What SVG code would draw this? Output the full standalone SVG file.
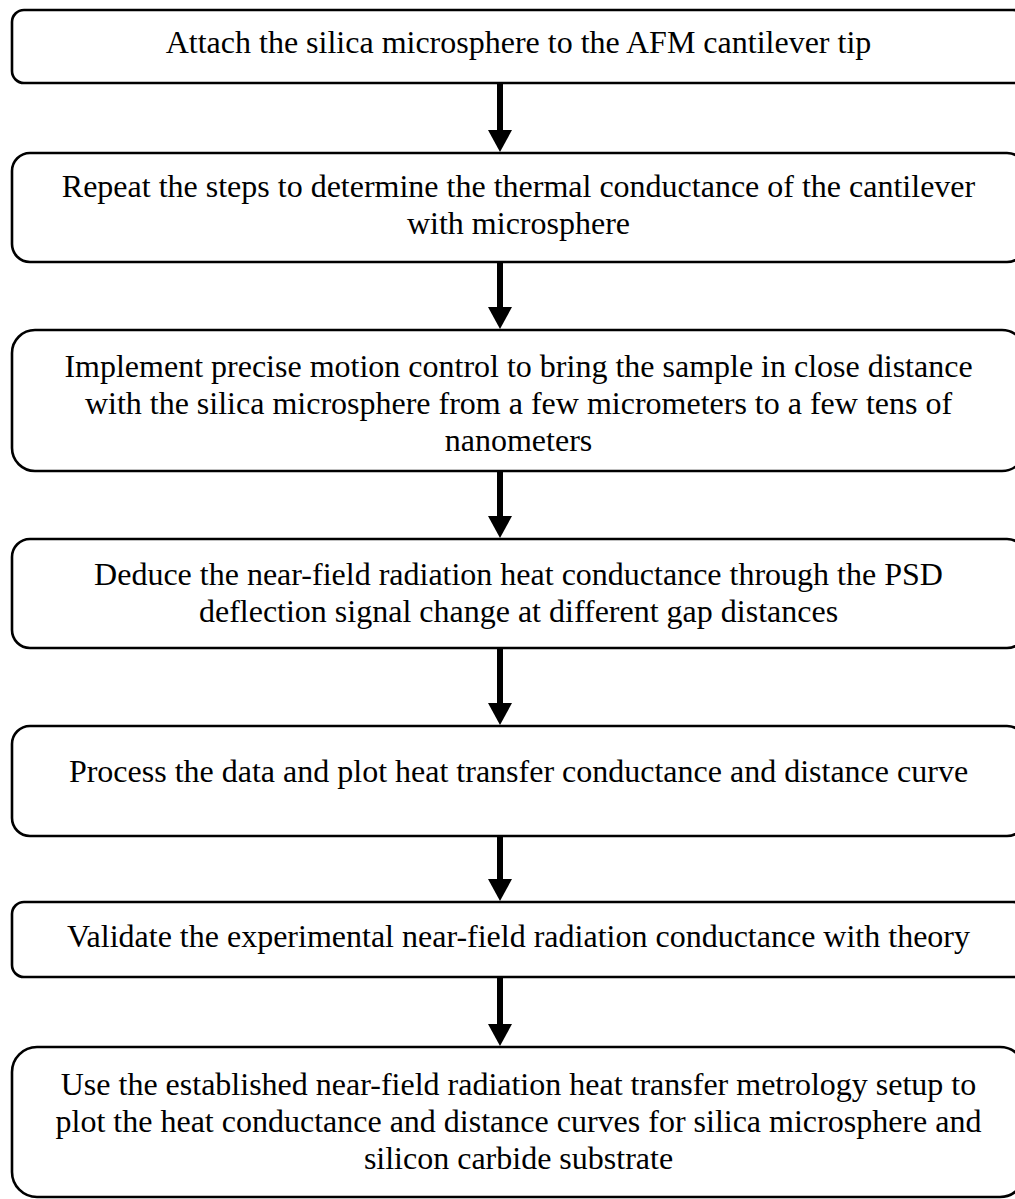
<svg xmlns="http://www.w3.org/2000/svg" width="1015" height="1199" viewBox="0 0 1015 1199">
<style>
.box{fill:#fff;stroke:#000;stroke-width:2.6}
.t{font-family:"Liberation Serif","Times New Roman",serif;font-size:32px;fill:#000;text-anchor:middle}
.arr{stroke:#000;stroke-width:6;fill:none}
</style>
<defs>
<marker id="ah" markerUnits="userSpaceOnUse" viewBox="0 0 22 24" refX="0" refY="12" markerWidth="22" markerHeight="24" orient="auto">
<path d="M0,0 L22,12 L0,24 Z" fill="#000"/>
</marker>
</defs>
<rect width="1015" height="1199" fill="#fff"/>
<g id="connectors">
<line class="arr" x1="500" y1="83" x2="500" y2="130" marker-end="url(#ah)"/>
<line class="arr" x1="500" y1="262" x2="500" y2="307" marker-end="url(#ah)"/>
<line class="arr" x1="500" y1="471" x2="500" y2="516" marker-end="url(#ah)"/>
<line class="arr" x1="500" y1="648" x2="500" y2="703" marker-end="url(#ah)"/>
<line class="arr" x1="500" y1="836" x2="500" y2="879" marker-end="url(#ah)"/>
<line class="arr" x1="500" y1="977" x2="500" y2="1024" marker-end="url(#ah)"/>
</g>
<g id="step1">
<rect class="box" x="12" y="10" width="1013" height="73" rx="12"/>
<text class="t" x="518.5" y="53">Attach the silica microsphere to the AFM cantilever tip</text>
</g>
<g id="step2">
<rect class="box" x="12" y="153" width="1013" height="109" rx="18"/>
<text class="t" x="518.5" y="197">Repeat the steps to determine the thermal conductance of the cantilever</text>
<text class="t" x="518.5" y="234">with microsphere</text>
</g>
<g id="step3">
<rect class="box" x="12" y="330" width="1013" height="141" rx="23"/>
<text class="t" x="518.5" y="377">Implement precise motion control to bring the sample in close distance</text>
<text class="t" x="518.5" y="414">with the silica microsphere from a few micrometers to a few tens of</text>
<text class="t" x="518.5" y="451">nanometers</text>
</g>
<g id="step4">
<rect class="box" x="12" y="539" width="1013" height="109" rx="18"/>
<text class="t" x="518.5" y="585">Deduce the near-field radiation heat conductance through the PSD</text>
<text class="t" x="518.5" y="622">deflection signal change at different gap distances</text>
</g>
<g id="step5">
<rect class="box" x="12" y="726" width="1013" height="110" rx="18"/>
<text class="t" x="518.5" y="782">Process the data and plot heat transfer conductance and distance curve</text>
</g>
<g id="step6">
<rect class="box" x="12" y="902" width="1013" height="75" rx="12"/>
<text class="t" x="518.5" y="947">Validate the experimental near-field radiation conductance with theory</text>
</g>
<g id="step7">
<rect class="box" x="12" y="1047" width="1013" height="150" rx="25"/>
<text class="t" x="518.5" y="1095">Use the established near-field radiation heat transfer metrology setup to</text>
<text class="t" x="518.5" y="1132">plot the heat conductance and distance curves for silica microsphere and</text>
<text class="t" x="518.5" y="1169">silicon carbide substrate</text>
</g>
</svg>
